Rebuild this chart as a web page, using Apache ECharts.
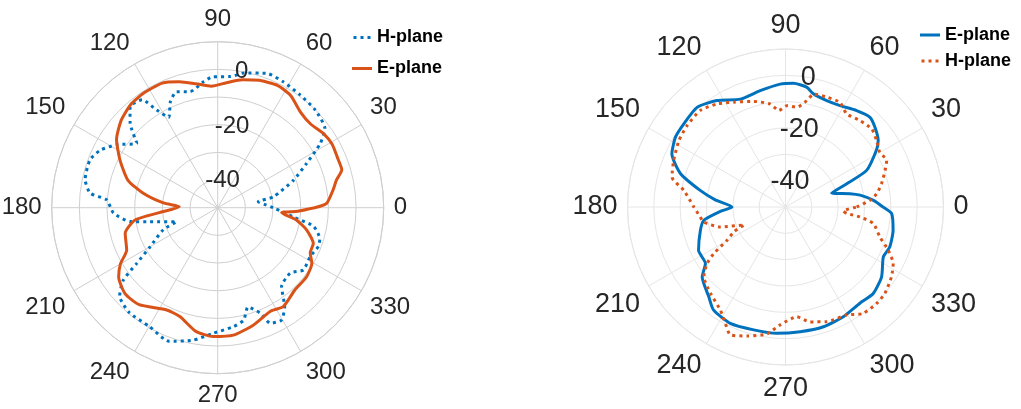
<!DOCTYPE html>
<html>
<head>
<meta charset="utf-8">
<script src="https://cdn.jsdelivr.net/npm/echarts@6/dist/echarts.min.js"></script>
<style>
html,body{margin:0;padding:0;background:#fff;}
#chart{width:1021px;height:409px;}
</style>
</head>
<body>
<div id="chart"></div>
<script>
// ---- Data (angle in degrees, gain in dB) ----
var angleTicks = [0, 30, 60, 90, 120, 150, 180, 210, 240, 270, 300, 330];
var rTickLabels = [-40, -20, 0];

// Left plot, E-plane (solid orange)
var leftEAngles = [0, 2.3, 9, 13, 17, 22, 29, 35, 42, 49, 57, 64, 72, 79, 86, 93, 100, 107, 114, 123, 130, 138, 146, 154, 163, 169, 175, 178.5, 185, 188.5, 195.5, 205, 210, 215, 223, 231, 243.5, 251, 260, 268, 277, 287, 297, 303.5, 313, 322, 329.5, 334, 339.5, 346, 351, 355.5, 357.5];
var leftEValues = [-15, -10.6, -7.7, -6, -3.1, -3.1, -2.7, -3.3, -4.8, -4.3, -1.6, -0.8, -1.6, -2.9, -4.7, -6, -4.5, -2.4, -0.7, -0.7, -1.2, -3, -5.9, -10.7, -16.1, -22.6, -30.3, -36.1, -28.5, -19.8, -15.3, -13.7, -9.4, -6.3, -4.3, -4.9, -8.7, -8.3, -4.6, -3.4, -3.6, -5.7, -8, -7.1, -9.2, -9.3, -10.5, -12.8, -13.1, -16.9, -21.1, -26.8, -21];

// Left plot, H-plane (dotted blue)
var leftHAngles = [0, 4, 8.4, 11, 20, 26.5, 32, 36.5, 45, 54, 62.5, 70, 79, 84.5, 92, 96.5, 103.5, 109.5, 114, 118.5, 122, 125, 131, 136, 141.5, 148, 154, 159.5, 168, 173.5, 176, 183, 189, 191.7, 199, 202, 210, 214.5, 217.5, 222, 230, 240, 250, 259.5, 268, 277.5, 283, 287, 292, 294.5, 299.5, 304, 309, 318, 324, 332, 339, 343, 349, 353, 356];
var leftHValues = [-30, -33, -35.2, -29.5, -20.8, -14.1, -6.3, -1.8, -0.1, 0.5, 1.3, 1.7, -0.4, -2.4, -2.6, -4.2, -6.9, -5.5, -8, -12.8, -8.4, -2.4, -1.7, -6, -12.6, -7, -2.7, -0.7, -1, -3.6, -9.8, -12.3, -18, -25, -34.3, -28.8, -21.8, -14.5, -7, -2.3, -0.4, -0.5, 1.4, -1.3, -4.6, -6.6, -8.3, -12.5, -8.9, -4.1, -3.3, -6.7, -13.3, -14.7, -11.7, -12.2, -11, -11.4, -14.7, -22.4, -26];

// Right plot, E-plane (solid blue)
var rightEAngles = [0, 4.3, 9, 11.7, 16.8, 20.8, 24.3, 32, 35.6, 41.7, 46.7, 53.6, 61.7, 68.8, 76, 80, 86.3, 92.5, 102.3, 112.7, 122.8, 131.6, 140.7, 147.6, 155, 162.4, 169, 174, 180, 184, 189.2, 195.3, 206.5, 215.2, 220, 229.4, 235, 244.6, 255.5, 266, 276.7, 287.6, 297.8, 307.7, 315.4, 324, 333, 339, 347.8, 356.4];
var rightEValues = [-13, -16.5, -21.3, -25, -31.7, -25.1, -16.2, -9.3, -6.7, -4.5, -3.2, -4.5, -6.3, -6.7, -5.8, -3.8, -2.9, -3.3, -4.8, -5.6, -1.9, 0.6, -0.1, -0.5, -2.4, -8.2, -17, -23, -29.7, -25, -18.6, -16.5, -13.1, -12.8, -8.7, -5.2, -2.3, -1.1, -1.8, -1.9, -2.3, -2.3, -2.9, -3.8, -3.2, -4.9, -8.3, -7.6, -8.2, -9.6];

// Right plot, H-plane (dotted orange)
var rightHAngles = [0, 4.5, 8.3, 13.6, 20.2, 24.7, 30.2, 36.1, 42.2, 49.3, 56.7, 62.5, 69.4, 76, 78.7, 83.5, 89.2, 94, 98.4, 106.8, 116.3, 123.6, 131.4, 140.4, 148, 157.4, 165.2, 170.7, 180, 186.7, 190.4, 197, 203.5, 205.5, 209.6, 213, 215.8, 220.5, 229, 237.7, 242.7, 246.7, 253.4, 261.7, 267.4, 275.9, 282, 289.8, 299.5, 306, 313.4, 319, 326.6, 332.3, 337.2, 342.4, 349.3, 352.4, 354, 356];
var rightHValues = [-23, -17.8, -15, -12.5, -9.7, -7.7, -8.6, -7.2, -5.8, -6.7, -7.7, -5.2, -5.4, -5.8, -8.8, -11.9, -11.5, -13.3, -10.5, -8.1, -5.6, -3, -1.1, -1.5, -2.3, -4, -5.4, -10.9, -15.2, -17.4, -18.4, -24.1, -33, -28.5, -24.5, -17.5, -13.3, -9.2, -6.6, -3.7, -0.2, 2.9, 1.1, -1.3, -5.2, -8.1, -5.4, -3.7, -2.9, 0, 0.4, 0, -1.8, -3.8, -7.7, -12.4, -16, -21.5, -26.6, -28];

// ---- Build ----
function closed(angles, values) {
  var d = angles.map(function (a, i) { return [values[i], a]; });
  d.push([values[0], 360]);
  return d;
}
var BLUE = '#0072BD', ORANGE = '#D95319', TXT = '#262626';
var FONT = '"Liberation Sans", Arial, Helvetica, sans-serif';
var dottedIcon = 'path://M0,0h3v3h-3zM7,0h3v3h-3zM14,0h3v3h-3z';

function angleAxis(idx, grid, fs) {
  return {
    polarIndex: idx, type: 'value', min: 0, max: 360, interval: 30,
    startAngle: 0, clockwise: false,
    axisLine: { lineStyle: { color: grid, width: 1 } },
    axisTick: { show: false },
    axisLabel: {
      fontSize: fs, color: TXT, fontFamily: FONT, margin: 10,
      formatter: function (v) { return angleTicks.indexOf(v) >= 0 ? String(v) : ''; }
    },
    splitLine: { show: true, lineStyle: { color: grid, width: 1 } }
  };
}
function radiusAxis(idx, grid) {
  return {
    polarIndex: idx, type: 'value', min: -50, max: 10, interval: 10,
    axisLine: { show: false }, axisTick: { show: false }, axisLabel: { show: false },
    splitLine: { show: true, lineStyle: { color: grid, width: 1 } }
  };
}
function rLabelSeries(idx, fs) {
  return {
    type: 'scatter', coordinateSystem: 'polar', polarIndex: idx, silent: true,
    symbolSize: 1, itemStyle: { color: 'rgba(0,0,0,0)' }, z: 10,
    data: rTickLabels.map(function (v) { return [v, 80]; }),
    label: {
      show: true, position: 'inside', fontSize: fs, color: TXT, fontFamily: FONT,
      textBorderWidth: 0, opacity: 1,
      formatter: function (p) { return String(p.value[0]); }
    }
  };
}
function lineSeries(name, idx, angles, values, color, dotted) {
  return {
    name: name, type: 'line', coordinateSystem: 'polar', polarIndex: idx,
    data: closed(angles, values), showSymbol: false, symbol: 'none', smooth: 0.2,
    color: color, itemStyle: { color: color },
    lineStyle: { color: color, width: 3, type: dotted ? [3, 4] : 'solid', cap: 'butt' },
    animation: false
  };
}
var legendText = { fontSize: 18, fontWeight: 'bold', color: '#000', fontFamily: FONT, lineHeight: 20 };

var chart = echarts.init(document.getElementById('chart'), null, { renderer: 'canvas' });
chart.setOption({
  backgroundColor: '#fff',
  animation: false,
  polar: [
    { center: [217.7, 207.7], radius: 166 },
    { center: [785.5, 207], radius: 158 }
  ],
  angleAxis: [angleAxis(0, '#cfcfcf', 24), angleAxis(1, '#e6e6e6', 27)],
  radiusAxis: [radiusAxis(0, '#cfcfcf'), radiusAxis(1, '#e6e6e6')],
  legend: [
    {
      orient: 'vertical', left: 352, top: 27.5, padding: 0, itemGap: 11,
      itemWidth: 20, itemHeight: 3, textStyle: legendText,
      data: [{ name: 'H-plane', icon: dottedIcon }, { name: 'E-plane', icon: 'rect' }]
    },
    {
      orient: 'vertical', left: 920, top: 25, padding: 0, itemGap: 6,
      itemWidth: 20, itemHeight: 3, textStyle: legendText,
      data: [{ name: 'E-plane ', icon: 'rect' }, { name: 'H-plane ', icon: dottedIcon }]
    }
  ],
  series: [
    lineSeries('H-plane', 0, leftHAngles, leftHValues, BLUE, true),
    lineSeries('E-plane', 0, leftEAngles, leftEValues, ORANGE, false),
    lineSeries('E-plane ', 1, rightEAngles, rightEValues, BLUE, false),
    lineSeries('H-plane ', 1, rightHAngles, rightHValues, ORANGE, true),
    rLabelSeries(0, 24),
    rLabelSeries(1, 27)
  ]
});
</script>
</body>
</html>
